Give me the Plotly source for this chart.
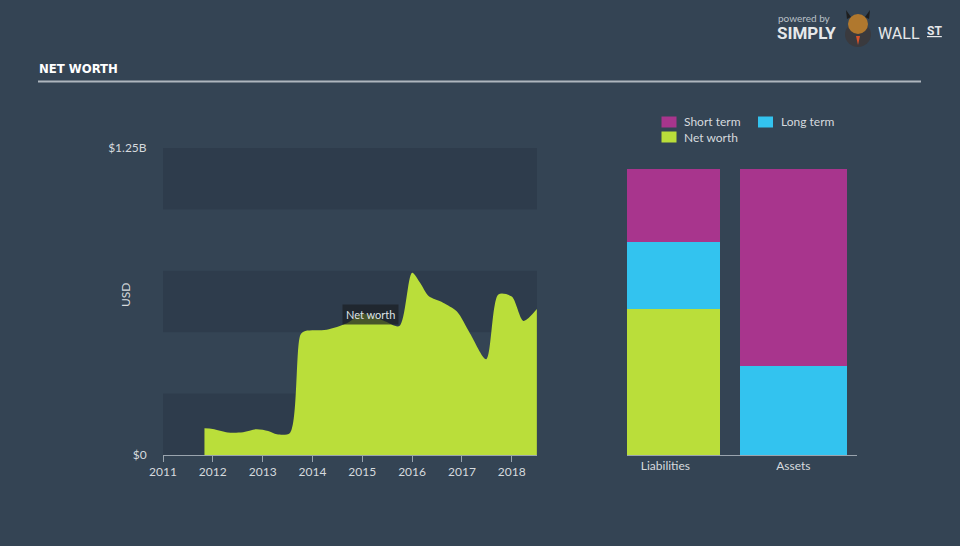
import plotly.graph_objects as go

# ---------------- data ----------------
nw_dates = ["2011-11-01", "2012-01-01", "2012-04-20", "2012-08-10", "2012-11-15",
            "2013-02-10", "2013-04-15", "2013-07-20", "2013-10-05", "2013-11-10",
            "2014-04-15", "2014-09-10", "2015-01-05", "2015-06-15", "2015-09-30",
            "2016-01-01", "2016-03-01", "2016-05-01", "2016-08-15", "2016-11-25",
            "2017-03-01", "2017-06-28", "2017-09-25", "2018-01-01", "2018-03-28",
            "2018-07-04"]
nw_values = [0.109, 0.106, 0.092, 0.093, 0.105,
             0.098, 0.084, 0.090, 0.490, 0.505,
             0.510, 0.536, 0.575, 0.545, 0.525,
             0.742, 0.700, 0.647, 0.620, 0.584,
             0.495, 0.390, 0.654, 0.645, 0.546,
             0.594]

bar_categories = ["Liabilities", "Assets"]
bar_net_worth = [0.594, 0.0]
bar_long_term = [0.273, 0.362]
bar_short_term = [0.297, 0.802]

y_tick_vals = [0, 1.25]
y_tick_text = ["$0", "$1.25B"]
x_tick_years = ["2011", "2012", "2013", "2014", "2015", "2016", "2017", "2018"]

# ---------------- style ----------------
W, H = 960, 546
BG = "#344454"
BAND = "#2e3c4c"
LIME = "#bade3a"
MAGENTA = "#a8358d"
CYAN = "#33c3ef"
AXIS = "#9aa4ae"
TEXT = "#d6dade"
FONT = "Lato, Open Sans, sans-serif"


def px(x):
    return x / W


def py(y):
    return 1 - y / H


fig = go.Figure()

fig.add_trace(go.Scatter(
    x=nw_dates, y=nw_values, mode="lines", line=dict(shape="spline", smoothing=0.8, width=0, color=LIME),
    fill="tozeroy", fillcolor=LIME, hoverinfo="skip", showlegend=False, xaxis="x", yaxis="y"))

bar_left = [-0.30, -0.418]
bar_width = [0.727, 0.836]
for name, vals, col in [("Net worth", bar_net_worth, LIME),
                        ("Long term", bar_long_term, CYAN),
                        ("Short term", bar_short_term, MAGENTA)]:
    fig.add_trace(go.Bar(x=bar_categories, y=vals, name=name, marker=dict(color=col, line=dict(width=0)),
                         width=bar_width, offset=bar_left, showlegend=False,
                         xaxis="x2", yaxis="y2", hoverinfo="skip"))

total = max(a + b + c for a, b, c in zip(bar_net_worth, bar_long_term, bar_short_term))

shapes = []
# alternating bands
for lo in [0, 0.5, 1.0]:
    shapes.append(dict(type="rect", xref="x", yref="y", x0="2011-01-01", x1="2018-07-05",
                       y0=lo, y1=lo + 0.25, fillcolor=BAND, line=dict(width=0), layer="below"))
# header underline
shapes.append(dict(type="line", xref="paper", yref="paper", x0=px(38), x1=px(921), y0=py(81.5), y1=py(81.5),
                   line=dict(color="#aeb6be", width=2)))
# legend swatches
for (x0, y0), col in [((661.5, 116.5), MAGENTA), ((758, 116.5), CYAN), ((661.5, 131.5), LIME)]:
    shapes.append(dict(type="rect", xref="paper", yref="paper", x0=px(x0), x1=px(x0 + 15),
                       y0=py(y0), y1=py(y0 + 11), fillcolor=col, line=dict(width=0)))
# simple logo mark (suit + head + horns)
shapes.append(dict(type="circle", xref="paper", yref="paper", x0=px(845), x1=px(871), y0=py(47), y1=py(22),
                   fillcolor="#3a3a3e", line=dict(width=0)))
shapes.append(dict(type="path", xref="paper", yref="paper",
                   path=f"M {px(856)},{py(36)} L {px(860)},{py(36)} L {px(858)},{py(45)} Z",
                   fillcolor="#d8522a", line=dict(width=0)))
shapes.append(dict(type="circle", xref="paper", yref="paper", x0=px(848), x1=px(868), y0=py(34), y1=py(14),
                   fillcolor="#b0782e", line=dict(width=0)))
shapes.append(dict(type="path", xref="paper", yref="paper",
                   path=f"M {px(847)},{py(19)} L {px(846)},{py(10)} L {px(851)},{py(17)} Z",
                   fillcolor="#1e1e1e", line=dict(width=0)))
shapes.append(dict(type="path", xref="paper", yref="paper",
                   path=f"M {px(869)},{py(19)} L {px(870)},{py(10)} L {px(865)},{py(17)} Z",
                   fillcolor="#1e1e1e", line=dict(width=0)))

annotations = [
    dict(text="<b>NET WORTH</b>", x=px(37), y=py(68), xref="paper", yref="paper", xanchor="left", yanchor="middle",
         showarrow=False, font=dict(family="DejaVu Sans Condensed, Liberation Sans Narrow, Roboto, sans-serif",
                                    size=13, color="#ffffff")),
    dict(text="powered by", x=px(776), y=py(18), xref="paper", yref="paper", xanchor="left", yanchor="middle",
         showarrow=False, font=dict(family=FONT, size=10, color="#b9c0c7")),
    dict(text="<b>SIMPLY</b>", x=px(775), y=py(33), xref="paper", yref="paper", xanchor="left", yanchor="middle",
         showarrow=False, font=dict(family="Roboto, sans-serif", size=17, color="#e6e8ea")),
    dict(text="WALL", x=px(876), y=py(33), xref="paper", yref="paper", xanchor="left", yanchor="middle",
         showarrow=False, font=dict(family="Roboto, sans-serif", size=16, color="#e6e8ea")),
    dict(text="<b><u>ST</u></b>", x=px(925), y=py(31), xref="paper", yref="paper", xanchor="left", yanchor="middle",
         showarrow=False, font=dict(family="Roboto, sans-serif", size=12, color="#e6e8ea")),
    dict(text="USD", x=px(125), y=py(295), xref="paper", yref="paper", xanchor="center", yanchor="middle",
         textangle=-90, showarrow=False, font=dict(family=FONT, size=12, color=TEXT)),
    dict(text="Net worth", x=px(370), y=py(314.5), xref="paper", yref="paper", xanchor="center", yanchor="middle",
         showarrow=False, bgcolor="rgba(28,32,36,0.72)", borderpad=3,
         font=dict(family=FONT, size=11, color="#dfe3e6")),
]
for (x0, y0), label in [((682, 122), "Short term"), ((779, 122), "Long term"), ((682, 137), "Net worth")]:
    annotations.append(dict(text=label, x=px(x0), y=py(y0), xref="paper", yref="paper", xanchor="left",
                            yanchor="middle", showarrow=False, font=dict(family=FONT, size=12, color=TEXT)))

fig.update_layout(
    width=W, height=H, margin=dict(l=0, r=0, t=0, b=0, autoexpand=False),
    paper_bgcolor=BG, plot_bgcolor="rgba(0,0,0,0)",
    font=dict(family=FONT, color=TEXT, size=12),
    barmode="stack", showlegend=False,
    shapes=shapes, annotations=annotations,
    xaxis=dict(domain=[px(163), px(537)], type="date", range=["2011-01-01", "2018-07-05"],
               tickvals=[y + "-01-01" for y in x_tick_years], ticktext=x_tick_years,
               showgrid=False, zeroline=False, showline=True, linecolor=AXIS, linewidth=1, automargin=False,
               ticks="outside", ticklen=6, tickcolor=AXIS, tickfont=dict(size=12, color=TEXT)),
    yaxis=dict(domain=[py(455), py(148)], range=[0, 1.25], tickvals=y_tick_vals, ticktext=y_tick_text,
               showgrid=False, zeroline=False, showline=False, ticks="outside", ticklen=13, automargin=False,
               tickcolor="rgba(0,0,0,0)", tickfont=dict(size=12, color=TEXT)),
    xaxis2=dict(domain=[px(627), px(857)], type="category", range=[-0.30, 1.497], anchor="y2",
                showgrid=False, zeroline=False, showline=True, linecolor=AXIS, linewidth=1, automargin=False,
                ticks="", tickfont=dict(size=12, color=TEXT)),
    yaxis2=dict(domain=[py(455), py(169)], range=[0, total], anchor="x2", visible=False),
)

fig.write_html("out.html", post_script="document.body.style.margin='0';document.body.style.overflow='hidden';")
